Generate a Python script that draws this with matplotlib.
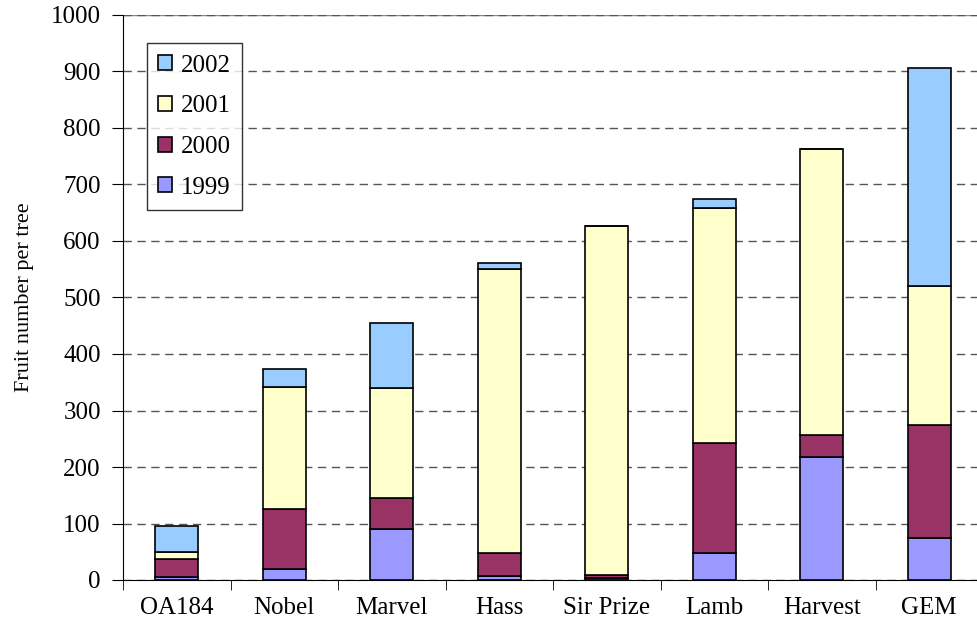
import matplotlib.pyplot as plt
import numpy as np

plt.rcParams['font.family'] = ['Liberation Serif', 'DejaVu Serif']

cultivars = ["OA184", "Nobel", "Marvel", "Hass", "Sir Prize", "Lamb", "Harvest", "GEM"]
y1999 = [5, 20, 90, 7, 3, 47, 217, 75]
y2000 = [32, 105, 55, 40, 5, 195, 39, 199]
y2001 = [13, 216, 195, 503, 618, 416, 506, 246]
y2002 = [45, 32, 115, 11, 0, 16, 0, 387]

series = [("1999", y1999, "#9999FF"), ("2000", y2000, "#993366"),
          ("2001", y2001, "#FFFFCC"), ("2002", y2002, "#99CCFF")]

fig = plt.figure(figsize=(9.77, 6.4), dpi=100)
# plot area runs off the right edge of the image, like the original
ax = fig.add_axes([123 / 977, 1 - 580 / 640, 854 / 977, 565 / 640])

x = np.arange(len(cultivars))
bottom = np.zeros(len(cultivars))
handles = []
for label, vals, color in series:
    vals = np.array(vals, dtype=float)
    b = ax.bar(x, vals, 0.4, bottom=bottom, color=color, edgecolor="black",
               linewidth=1.2, label=label, zorder=3)
    handles.append(b)
    bottom += vals

ax.set_xlim(-0.5, len(cultivars) - 0.5 - 6 / 107.5)
ax.set_ylim(0, 1000)
ax.set_yticks(np.arange(0, 1001, 100))
ax.set_xticks(x)
ax.set_xticklabels(cultivars, fontsize=18)
ax.set_xticks(np.arange(-0.5, len(cultivars) - 1, 1), minor=True)
ax.tick_params(axis="x", which="major", length=0, pad=12)
ax.tick_params(axis="x", which="minor", length=7, direction="out")
ax.tick_params(axis="y", labelsize=18, length=8, direction="out", pad=8)
ax.yaxis.grid(True, linestyle=(0, (6, 4)), color="#555555", linewidth=1, zorder=0)
ax.axhline(1000, color="#888888", linewidth=1, zorder=1)
for s in ["top", "right"]:
    ax.spines[s].set_visible(False)
ax.set_ylabel("Fruit number per tree", fontsize=16, labelpad=12)

leg = ax.legend(handles[::-1], [s[0] for s in series][::-1], loc="upper left",
                bbox_to_anchor=(0.028, 0.95), fontsize=18, frameon=True, fancybox=False,
                edgecolor="black", handlelength=0.55, handleheight=0.55,
                handletextpad=0.35, labelspacing=0.75, borderpad=0.45,
                borderaxespad=0)
leg.get_frame().set_linewidth(1)

fig.savefig("out.png", dpi=100)
